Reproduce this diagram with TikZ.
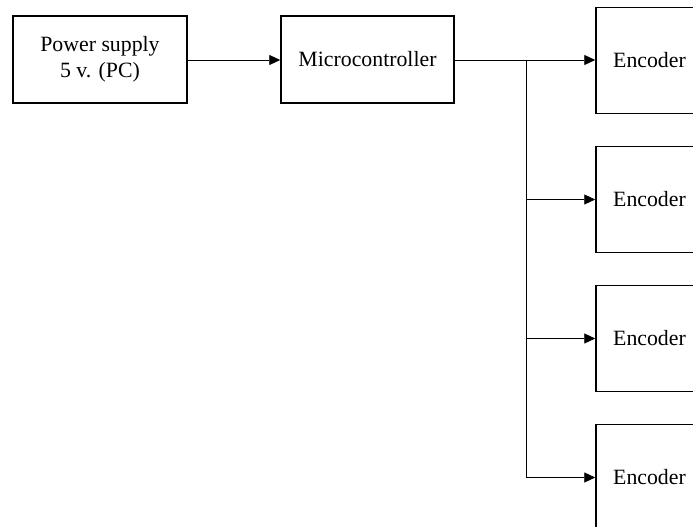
\documentclass[tikz,border=0pt]{standalone}
\usepackage{fontspec}
\setmainfont{Liberation Serif}
\usetikzlibrary{arrows.meta}
\begin{document}
\begin{tikzpicture}[x=1pt,y=-1pt,
  block/.style={draw, line width=1.5pt, inner sep=0pt, align=center,
    font=\fontsize{21.8}{26}\selectfont},
  wide/.style={block, minimum width=174pt, minimum height=87pt},
  enc/.style={block, minimum width=107pt, minimum height=106pt},
  link/.style={line width=0.9pt, -{Triangle[length=11pt,width=10pt]}}]
  \useasboundingbox (0,0) rectangle (693,527);
  \node[wide] (ps) at (100,59.5) {Power supply\\5 v. (PC)};
  \node[wide, minimum width=173pt] (mc) at (367.5,59.5) {Microcontroller};
  \node[enc] (e1) at (649.5,60.5) {Encoder};
  \node[enc] (e2) at (649.5,199.5) {Encoder};
  \node[enc] (e3) at (649.5,338.5) {Encoder};
  \node[enc] (e4) at (649.5,477.5) {Encoder};
  \coordinate (j) at (526,60);
  \draw[link] (ps.east |- 0,60) -- (mc.west |- 0,60);
  \draw[link] (mc.east |- j) -- (e1.west |- j);
  \draw[link] (j) |- (e2.west);
  \draw[link] (j) |- (e3.west);
  \draw[link] (j) |- (e4.west);
\end{tikzpicture}
\end{document}
